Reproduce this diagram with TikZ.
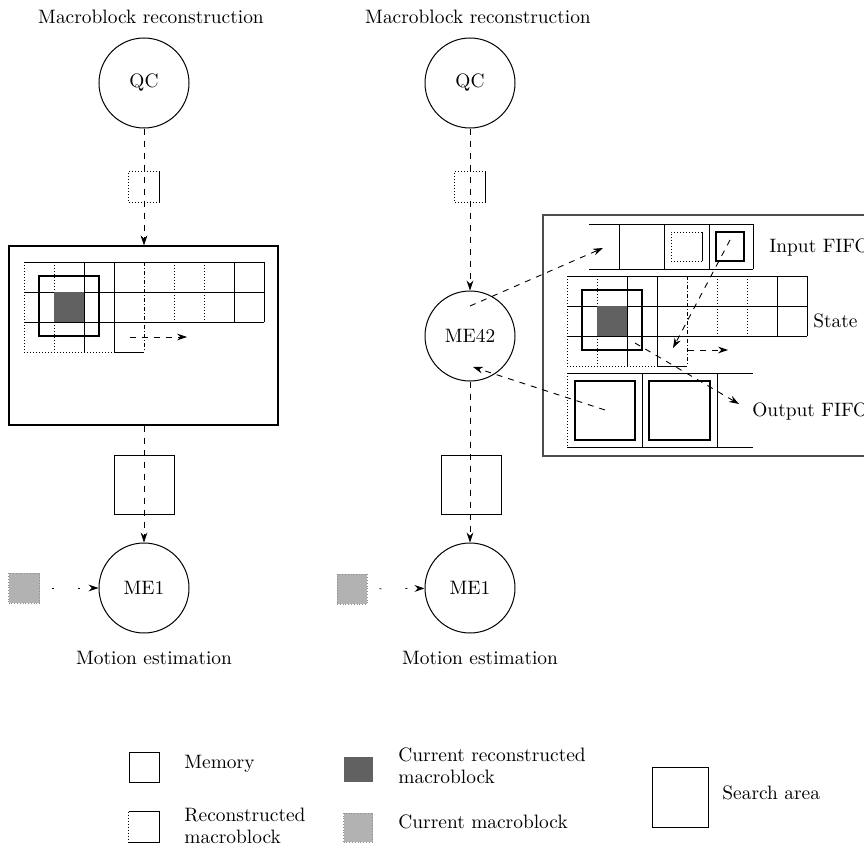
\documentclass[tikz,border=0pt]{standalone}
\usetikzlibrary{arrows.meta}
\begin{document}
\begin{tikzpicture}[x=0.5pt,y=-0.5pt,
  every node/.style={font=\fontsize{9.7}{11}\selectfont},
  proc/.style={circle,draw,line width=0.5pt,minimum size=45pt,inner sep=0pt},
  flow/.style={dashed,line width=0.45pt,-{Stealth[length=5pt,width=3.4pt]}},
  sparse/.style={dash pattern=on 1pt off 12pt,dash phase=-6pt,line width=0.45pt,-{Stealth[length=5pt,width=3.4pt]}},
  solidln/.style={line width=0.5pt},
  dotln/.style={densely dotted,line width=0.5pt},
  dashdotln/.style={dash pattern=on 2pt off 1pt on 0.5pt off 1pt,line width=0.5pt},
  darkmb/.style={fill=black!62},
  lightmb/.style={fill=black!30,draw=black!45,densely dotted,line width=0.4pt},
  lbl/.style={inner sep=0pt,align=left},
  mbgrid/.pic={
    % rows
    \draw[solidln] (0,0) -- (240,0) (0,30) -- (240,30) (0,60) -- (240,60);
    \draw[dotln] (0,90) -- (90,90);
    \draw[solidln] (90,90) -- (120,90);
    % columns
    \draw[dotln] (0,0) -- (0,90) (30,0) -- (30,90);
    \draw[solidln] (60,0) -- (60,90) (90,0) -- (90,90);
    \draw[dashdotln] (120,0) -- (120,90);
    \draw[dotln] (150,0) -- (150,60) (180,0) -- (180,60);
    \draw[solidln] (210,0) -- (210,60) (240,0) -- (240,60);
    % current reconstructed macroblock and its search area
    \fill[darkmb] (30,30) rectangle (60,60);
    \draw[line width=0.55pt] (15,14) rectangle (75,74);
  }]
\clip (0,0) rectangle (864,846);
\fill[white] (0,0) rectangle (864,846);

% ---------- left: plain data flow ----------
\node (ttlL) at (151,17) {Macroblock reconstruction};
\node[proc] (qcL) at (144,83) {QC};
\node[minimum width=15.5pt,minimum height=15pt,inner sep=0pt] (rmbL) at (144,187) {};
\draw[dotln] (rmbL.north east) -- (rmbL.north west) -- (rmbL.south west) -- (rmbL.south east);
\draw[solidln] (rmbL.north east) -- (rmbL.south east);
\node[draw,line width=0.6pt,minimum width=134.5pt,minimum height=89.5pt,inner sep=0pt] (recbuf) at (143.5,335.5) {};
\pic at (24,262) {mbgrid};
\coordinate (gaL) at (130,337);
\coordinate (gbL) at (187,337);
\draw[flow] (gaL) -- (gbL);
\node[draw,line width=0.5pt,minimum width=30pt,minimum height=29.5pt,inner sep=0pt] (memL) at (144,485) {};
\node[proc] (me1L) at (144,588) {ME1};
\node[lightmb,minimum width=15.5pt,minimum height=15pt,inner sep=0pt] (curL) at (24,588) {};
\node (motL) at (154,658) {Motion estimation};
\draw[flow] (qcL) -- (qcL |- recbuf.north);
\draw[flow] (recbuf.south -| me1L) -- (me1L);
\draw[sparse] (curL) -- (me1L);

% ---------- right: with the ME42 actor ----------
\node (ttlR) at (478,17) {Macroblock reconstruction};
\node[proc] (qcR) at (470,83) {QC};
\node[minimum width=15.5pt,minimum height=15pt,inner sep=0pt] (rmbR) at (470,187) {};
\draw[dotln] (rmbR.north east) -- (rmbR.north west) -- (rmbR.south west) -- (rmbR.south east);
\draw[solidln] (rmbR.north east) -- (rmbR.south east);
\node[proc] (me42) at (470,336) {ME42};
\node[draw,line width=0.5pt,minimum width=30pt,minimum height=29.5pt,inner sep=0pt] (memR) at (471,485) {};
\node[proc] (me1R) at (470,588) {ME1};
\node[lightmb,minimum width=15pt,minimum height=15pt,inner sep=0pt] (curR) at (352,589) {};
\node (motR) at (480,658) {Motion estimation};
\draw[flow] (qcR) -- (me42);
\draw[flow] (me42) -- (me1R);
\draw[sparse] (curR) -- (me1R);

% ---------- ME42 internals ----------
\draw[draw=black!70,line width=0.6pt] (543,215) rectangle (900,456);
% input FIFO
\draw[solidln] (589,224) -- (753,224) (589,269) -- (753,269);
\draw[solidln] (619,224) -- (619,269) (664,224) -- (664,269) (709,224) -- (709,269) (753,224) -- (753,269);
\draw[dotln] (702,232) -- (671,232) -- (671,261) -- (702,261);
\draw[solidln] (702,232) -- (702,261);
\draw[line width=0.55pt] (716,232) rectangle (744,261);
\node[anchor=west,inner sep=0pt] (lblin) at (769,248) {Input FIFO};
% state
\pic at (567,276) {mbgrid};
\coordinate (gaR) at (688,350);
\coordinate (gbR) at (728,350);
\draw[flow] (gaR) -- (gbR);
\node[anchor=west,inner sep=0pt] (lblst) at (813,321) {State};
% output FIFO
\draw[solidln] (567,373) -- (753,373) (567,447) -- (753,447);
\draw[dotln] (567,373) -- (567,447);
\draw[solidln] (642,373) -- (642,447) (717,373) -- (717,447);
\draw[line width=0.55pt] (575,381) rectangle (635,440);
\draw[line width=0.55pt] (649,381) rectangle (710,440);
\node[anchor=west,inner sep=0pt] (lblout) at (752,412) {Output FIFO};
% data movements
\coordinate (m1s) at (470,306);
\coordinate (m1e) at (603,248);
\coordinate (m2s) at (605,410);
\coordinate (m2e) at (473,367);
\coordinate (m3s) at (730,240);
\coordinate (m3e) at (673,348);
\coordinate (m4s) at (635,343);
\coordinate (m4e) at (739,404);
\draw[flow] (m1s) -- (m1e);
\draw[flow] (m2s) -- (m2e);
\draw[flow] (m3s) -- (m3e);
\draw[flow] (m4s) -- (m4e);

% ---------- legend ----------
\node[draw,line width=0.5pt,minimum width=15pt,minimum height=15pt,inner sep=0pt] (kmem) at (144,767) {};
\node[lbl,anchor=west] (kmemt) at (184,764) {Memory};
\node[minimum width=15pt,minimum height=15pt,inner sep=0pt] (krmb) at (144,827) {};
\draw[dotln] (krmb.north west) -- (krmb.south west);
\draw[solidln] (krmb.north west) -- (krmb.north east) -- (krmb.south east) -- (krmb.south west);
\node[lbl,anchor=west] (krmbt) at (184,826) {Reconstructed\\macroblock};
\node[darkmb,minimum width=14.5pt,minimum height=12.5pt,inner sep=0pt] (kcrm) at (358,769.5) {};
\node[lbl,anchor=west] (kcrmt) at (398,766) {Current reconstructed\\macroblock};
\node[lightmb,minimum width=14.5pt,minimum height=14.5pt,inner sep=0pt] (kcur) at (358,827.5) {};
\node[lbl,anchor=west] (kcurt) at (398,822) {Current macroblock};
\node[draw,line width=0.5pt,minimum width=28pt,minimum height=30pt,inner sep=0pt] (ksa) at (680,797) {};
\node[lbl,anchor=west] (ksat) at (722,793) {Search area};
\end{tikzpicture}
\end{document}
